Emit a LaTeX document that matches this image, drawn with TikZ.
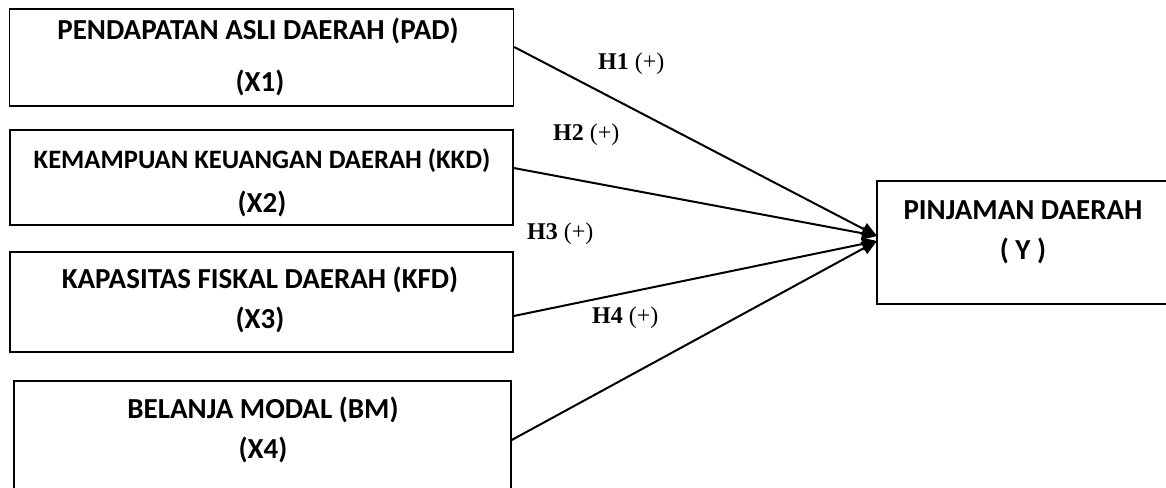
\documentclass[tikz,border=0pt]{standalone}
\usepackage{fontspec}
\setmainfont{Liberation Serif}
\newfontfamily\calfont{Carlito}
\usetikzlibrary{arrows.meta}
\tikzset{
  box/.style={draw, line width=1.4pt, rectangle, inner sep=0pt},
  btxt/.style={anchor=base, inner sep=0pt, font=\calfont\bfseries\fontsize{29}{32}\selectfont},
  stxt/.style={anchor=base, inner sep=0pt, font=\calfont\bfseries\fontsize{26.6}{30}\selectfont},
  htxt/.style={anchor=base west, inner sep=0pt, font=\fontsize{24}{28}\selectfont},
  arr/.style={line width=2pt, -{Triangle[length=15pt,width=13pt]}}
}
\begin{document}
\begin{tikzpicture}[x=1pt,y=-1pt]
\useasboundingbox[fill=white] (0,0) rectangle (1166,487);
% boxes
\node[box, minimum width=504, minimum height=97] (x1) at (261.5,57.5) {};
\node[box, minimum width=503, minimum height=95] (x2) at (261.5,177.5) {};
\node[box, minimum width=503, minimum height=100] (x3) at (261.5,302) {};
\node[box, minimum width=497, minimum height=120] (x4) at (262.5,441) {};
\node[box, minimum width=400, minimum height=123] (yb) at (1077,242.5) {};
% box texts
\node[btxt] (t1a) at (258,40) {PENDAPATAN ASLI DAERAH (PAD)};
\node[btxt] (t1b) at (260,91) {(X1)};
\node[stxt] (t2a) at (262,168) {KEMAMPUAN KEUANGAN DAERAH (KKD)};
\node[btxt] (t2b) at (262,212) {(X2)};
\node[btxt] (t3a) at (260,288) {KAPASITAS FISKAL DAERAH (KFD)};
\node[btxt] (t3b) at (260,328) {(X3)};
\node[btxt] (t4a) at (263,418) {BELANJA MODAL (BM)};
\node[btxt] (t4b) at (263,458) {(X4)};
\node[btxt] (tya) at (1023,219) {PINJAMAN DAERAH};
\node[btxt] (tyb) at (1023,259) {( Y )};
% hypothesis labels
\node[htxt] (h1) at (598,70) {\textbf{H1} (+)};
\node[htxt] (h2) at (553,140) {\textbf{H2} (+)};
\node[htxt] (h3) at (527,239) {\textbf{H3} (+)};
\node[htxt] (h4) at (592,323) {\textbf{H4} (+)};
% arrows
\coordinate (tipa) at (877,236);
\coordinate (tipb) at (877,241);
\draw[arr] ([yshift=10.5]x1.east) -- (tipa);
\draw[arr] ([yshift=9.5]x2.east) -- (tipa);
\draw[arr] ([yshift=-14]x3.east) -- (tipb);
\draw[arr] ([yshift=1]x4.east) -- (tipb);
\end{tikzpicture}
\end{document}
